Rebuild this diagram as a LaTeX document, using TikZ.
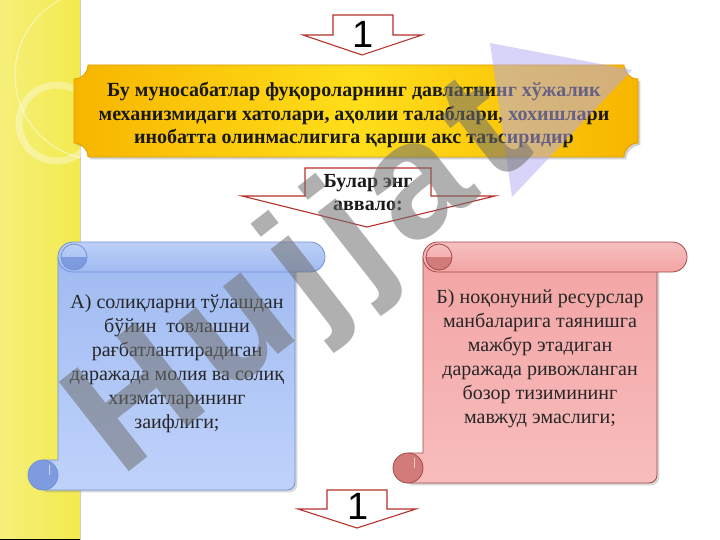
\documentclass[tikz,border=0pt]{standalone}
\usepackage{fontspec}
\setmainfont{Liberation Serif}
\newfontfamily\numfont{Liberation Sans}
\usetikzlibrary{positioning,shadows,calc}

\definecolor{stripyellow}{HTML}{F2EA4E}
\definecolor{plaquegold}{HTML}{FFDE1A}
\definecolor{plaqueedge}{HTML}{F7B500}
\definecolor{plaqueline}{HTML}{D9A000}
\definecolor{arrowred}{HTML}{B8302A}
\definecolor{blueface}{HTML}{BFD2FA}
\definecolor{bluetop}{HTML}{A0BBF2}
\definecolor{blueline}{HTML}{7391D6}
\definecolor{bluedark}{HTML}{7E9BE0}
\definecolor{pinkface}{HTML}{F8BDBD}
\definecolor{pinktop}{HTML}{F3A4A4}
\definecolor{pinkline}{HTML}{A34848}
\definecolor{pinkdark}{HTML}{D27B7B}
\definecolor{marktext}{HTML}{707070}
\definecolor{marklogo}{HTML}{B3A8F2}

% scroll: left, top, right, bottom, colour prefix
\newcommand{\scrollpaper}[5]{%
  \draw[#5line, line width=.8pt, top color=#5top, bottom color=#5face, drop shadow={opacity=.3}]
    (#1,#2+15) -- (#3,#2+15) -- (#3,#4-8) arc[start angle=0,end angle=90,radius=8]
    -- (#1-15,#4) -- (#1-15,#4-30) -- (#1,#4-30) -- cycle;
  \draw[#5line, line width=.8pt, top color=#5top!70!white, bottom color=#5top, rounded corners=14.9]
    (#1,#2) rectangle (#3+30,#2+30);
  \fill[#5dark] (#1+3,#2+15) arc[start angle=180,end angle=0,radius=13] -- cycle;
  \draw[#5line, line width=.8pt] (#1+16,#2+15) circle[radius=13];
  \fill[#5dark] (#1-15,#4-15) circle[radius=15];
  \draw[#5line, line width=.8pt] (#1-15,#4-15) circle[radius=15];
  \draw[white, opacity=.6] (#1-9,#4-25) -- (#1-9,#4-15);
}

\begin{document}
\begin{tikzpicture}[x=1pt,y=-1pt,
    blockarrow/.style={draw=arrowred, line width=1.1pt, fill=white, line join=miter},
    numtext/.style={font=\numfont\fontsize{38}{38}\selectfont, inner sep=0pt},
    plaquetext/.style={align=center, font=\bfseries\fontsize{20}{23.5}\selectfont, text=black!90},
    calltext/.style={align=center, font=\bfseries\fontsize{20}{23}\selectfont, text=black!90},
    scrolltext/.style={align=center, font=\fontsize{20}{24}\selectfont, text=black!85},
  ]
    \useasboundingbox (0,0) rectangle (720,540);
    \fill[white] (0,0) rectangle (720,540);

    % Side strip
    \shade[left color=stripyellow!75!white, right color=stripyellow] (0,0) rectangle (80,540);
    \draw[black!20, line width=1pt] (80,0) -- (80,540);
    \draw[white, opacity=.35, line width=7pt] (57,123) circle[radius=38];
    \begin{scope}
      \clip (0,0) rectangle (80,200);
      \draw[white, opacity=.45, line width=1.2pt] (100,75) circle[radius=85];
    \end{scope}
    \draw[black, line width=1pt] (0,539.5) -- (80,539.5);

    % Arrows
    \draw[blockarrow] (333,15) -- (393,15) -- (393,35) -- (422,35) -- (362,55) -- (303,35) -- (333,35) -- cycle;
    \node[numtext] (topnum) at (363,34) {1};

    % Main statement
    \draw[plaqueline, line width=.8pt, left color=plaqueedge, right color=plaqueedge, middle color=plaquegold,
          drop shadow={opacity=.35}]
      (88,65) -- (624,65) arc[start angle=180,end angle=90,radius=14]
      -- (638,143) arc[start angle=270,end angle=180,radius=14]
      -- (88,157) arc[start angle=0,end angle=-90,radius=14]
      -- (74,79) arc[start angle=90,end angle=0,radius=14] -- cycle;
    \node[plaquetext] (cause) at (354,115)
      {Бу муносабатлар фуқороларнинг давлатнинг хўжалик\\
       механизмидаги хатолари, аҳолии талаблари, хохишлари\\
       инобатта олинмаслигига қарши акс таъсиридир};

    \draw[blockarrow] (305,168) -- (431,168) -- (431,196) -- (495,196) -- (367,227) -- (242,196) -- (305,196) -- cycle;
    \node[calltext] (first) at (368,193) {Булар энг\\аввало:};

    % Scrolls
    \scrollpaper{58}{242}{295}{490}{blue}
    \scrollpaper{423}{242}{657}{483}{pink}
    \node[scrolltext] (reasonA) at (177,364)
      {А) солиқларни тўлашдан\\бўйин\ \ товлашни\\рағбатлантирадиган\\даражада молия ва солиқ\\хизматларининг\\заифлиги;};
    \node[scrolltext] (reasonB) at (540,359)
      {Б) ноқонуний ресурслар\\манбаларига таянишга\\мажбур этадиган\\даражада ривожланган\\бозор тизимининг\\мавжуд эмаслиги;};

    \draw[blockarrow] (327,490) -- (387,490) -- (387,509) -- (416,509) -- (357,528) -- (298,509) -- (327,509) -- cycle;
    \node[numtext] (botnum) at (358,506) {1};

    % Watermark
    \fill[marklogo, opacity=.5] (490,43) -- (632,70) -- (512,197) -- cycle;
    \node[font=\numfont\bfseries\fontsize{165}{165}\selectfont, text=marktext, opacity=.55, rotate=38]
      (watermark) at (302,282) {H\kern14pt u\kern14pt j\kern14pt j\kern14pt a\kern14pt t};
\end{tikzpicture}
\end{document}
